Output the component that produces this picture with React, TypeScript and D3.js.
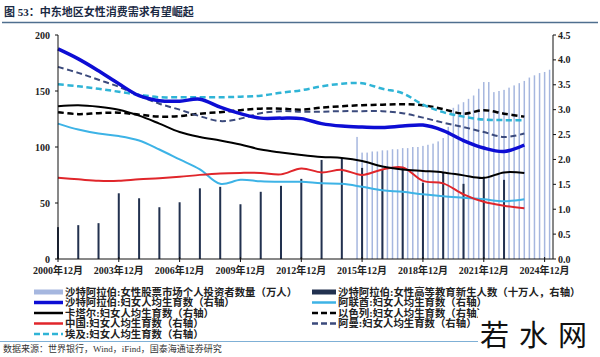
import React from 'react';
import * as d3 from 'd3';

// ---------- data ----------
const years = [2000, 2001, 2002, 2003, 2004, 2005, 2006, 2007, 2008, 2009, 2010, 2011,
  2012, 2013, 2014, 2015, 2016, 2017, 2018, 2019, 2020, 2021, 2022, 2023];

const saudiTFR = [4.22, 4.02, 3.78, 3.52, 3.28, 3.18, 3.17, 3.21, 3.05, 2.92, 2.83, 2.83,
  2.82, 2.72, 2.67, 2.65, 2.64, 2.67, 2.69, 2.58, 2.38, 2.23, 2.16, 2.29];
const qatarTFR = [3.07, 3.09, 3.06, 3.0, 2.88, 2.72, 2.55, 2.45, 2.38, 2.3, 2.2, 2.14,
  2.09, 2.05, 2.03, 1.97, 1.86, 1.8, 1.77, 1.74, 1.68, 1.63, 1.74, 1.73];
const chinaTFR = [1.63, 1.6, 1.57, 1.57, 1.6, 1.62, 1.65, 1.69, 1.72, 1.73, 1.73, 1.7,
  1.82, 1.74, 1.79, 1.69, 1.8, 1.84, 1.57, 1.52, 1.3, 1.15, 1.07, 1.02];
const egyptTFR = [3.51, 3.47, 3.42, 3.36, 3.3, 3.25, 3.25, 3.25, 3.25, 3.26, 3.28, 3.34,
  3.39, 3.47, 3.52, 3.53, 3.42, 3.33, 3.1, 2.95, 2.86, 2.8, 2.79, 2.79];
const uaeTFR = [2.72, 2.6, 2.52, 2.47, 2.38, 2.2, 2.0, 1.8, 1.51, 1.59, 1.56, 1.55,
  1.55, 1.52, 1.51, 1.45, 1.38, 1.35, 1.3, 1.26, 1.23, 1.2, 1.16, 1.2];
const israelTFR = [2.95, 2.91, 2.93, 2.94, 2.9, 2.86, 2.87, 2.92, 2.95, 2.99, 3.02, 3.02,
  3.0, 3.04, 3.07, 3.09, 3.1, 3.11, 3.09, 3.01, 2.92, 2.99, 2.92, 2.86];
const omanTFR = [3.86, 3.74, 3.6, 3.46, 3.28, 3.12, 3.0, 2.87, 2.77, 2.82, 2.93, 2.97,
  2.96, 2.96, 2.97, 2.97, 2.97, 2.93, 2.84, 2.74, 2.65, 2.55, 2.45, 2.52];

// Saudi female tertiary new entrants (100k, right axis)
const eduYears = [2000, 2001, 2002, 2003, 2004, 2005, 2006, 2007, 2008, 2009, 2010, 2011,
  2012, 2013, 2014, 2015, 2016, 2017, 2018, 2019, 2020, 2021, 2022];
const saudiEdu = [0.64, 0.68, 0.72, 1.32, 1.22, 1.04, 1.14, 1.42, 1.45, 1.10, 1.35, 1.47,
  1.61, 1.99, 2.01, 1.83, 1.79, 1.85, 1.53, 1.73, 1.51, 1.65, 1.59];

// Saudi female individual stock investors (10k, left axis), quarterly
const investorDates = ['2015-09', '2015-12',
  '2016-03', '2016-06', '2016-09', '2016-12',
  '2017-03', '2017-06', '2017-09', '2017-12',
  '2018-03', '2018-06', '2018-09', '2018-12',
  '2019-03', '2019-06', '2019-09', '2019-12',
  '2020-03', '2020-06', '2020-09', '2020-12',
  '2021-03', '2021-06', '2021-09', '2021-12',
  '2022-03', '2022-06', '2022-09', '2022-12',
  '2023-03', '2023-06', '2023-09', '2023-12',
  '2024-03', '2024-06', '2024-09', '2024-12', '2025-03'];
const saudiInvestors = [109, 95,
  95, 96, 96, 97,
  97, 98, 98, 99,
  99, 100, 100, 101,
  102, 103, 105, 108,
  118, 135, 138, 140,
  143, 146, 152, 158,
  158, 149, 150, 151,
  153, 155, 157, 159,
  162, 164, 166, 167, 169];

const xTickYears = [2000, 2003, 2006, 2009, 2012, 2015, 2018, 2021, 2024];
const xTickLabels = ['2000年12月', '2003年12月', '2006年12月', '2009年12月', '2012年12月',
  '2015年12月', '2018年12月', '2021年12月', '2024年12月'];
const leftTicks = [0, 50, 100, 150, 200];
const rightTicks = [0, 0.5, 1.0, 1.5, 2.0, 2.5, 3.0, 3.5, 4.0, 4.5];

const titleText = '图 53：中东地区女性消费需求有望崛起';
const sourceText = '数据来源：世界银行，Wind，iFind，国泰海通证券研究';

// ---------- styles ----------
const CJK = '"Liberation Serif", "Noto Sans CJK SC", serif';
const NUM = '"Liberation Serif", "Times New Roman", serif';

type LineSpec = { name: string; values: number[]; color: string; width: number; dash?: string };
const lines: LineSpec[] = [
  { name: '阿联酋:妇女人均生育数（右轴）', values: uaeTFR, color: '#3db3e6', width: 2 },
  { name: '中国:妇女人均生育数（右轴）', values: chinaTFR, color: '#e0262b', width: 2 },
  { name: '卡塔尔:妇女人均生育数（右轴）', values: qatarTFR, color: '#000000', width: 2 },
  { name: '以色列:妇女人均生育数（右轴）', values: israelTFR, color: '#000000', width: 2.5, dash: '6,3.5' },
  { name: '阿曼:妇女人均生育数（右轴）', values: omanTFR, color: '#3b4a7c', width: 2, dash: '6,3.5' },
  { name: '埃及:妇女人均生育数（右轴）', values: egyptTFR, color: '#2fb4d6', width: 2.5, dash: '6,3.5' },
  { name: '沙特阿拉伯:妇女人均生育数（右轴）', values: saudiTFR, color: '#0d0dd4', width: 3.5 },
];

const lightBarColor = '#a6b7df';
const darkBarColor = '#22314f';

export default function App() {
  const W = 600, H = 357;
  const x0 = 58, x1 = 553, yTop = 35, yBot = 259;

  const x = d3.scaleTime()
    .domain([new Date(2000, 11, 1), new Date(2025, 4, 1)])
    .range([x0, x1]);
  const yL = d3.scaleLinear().domain([0, 200]).range([yBot, yTop]);
  const yR = d3.scaleLinear().domain([0, 4.5]).range([yBot, yTop]);

  const yearDate = (y: number) => new Date(y, 11, 1);
  const parseYM = (s: string) => {
    const [yy, mm] = s.split('-').map(Number);
    return new Date(yy, mm - 1, 1);
  };

  const lineGen = d3.line<[Date, number]>()
    .x(d => x(d[0]))
    .y(d => yR(d[1]))
    .curve(d3.curveCatmullRom.alpha(0.5));

  const legendLeft = [
    { label: '沙特阿拉伯:女性股票市场个人投资者数量（万人）', color: lightBarColor, width: 5 },
    { label: '沙特阿拉伯:妇女人均生育数（右轴）', color: '#0d0dd4', width: 3.5 },
    { label: '卡塔尔:妇女人均生育数（右轴）', color: '#000000', width: 2.5 },
    { label: '中国:妇女人均生育数（右轴）', color: '#e0262b', width: 2.5 },
    { label: '埃及:妇女人均生育数（右轴）', color: '#2fb4d6', width: 2.5, dash: '6,3' },
  ];
  const legendRight = [
    { label: '沙特阿拉伯:女性高等教育新生人数（十万人，右轴）', color: darkBarColor, width: 5 },
    { label: '阿联酋:妇女人均生育数（右轴）', color: '#3db3e6', width: 2.5 },
    { label: '以色列:妇女人均生育数（右轴）', color: '#000000', width: 2.5, dash: '6,3' },
    { label: '阿曼:妇女人均生育数（右轴）', color: '#3b4a7c', width: 2.5, dash: '6,3' },
  ];
  const legendRows = [292, 302.5, 313, 323.5, 334];

  return (
    <svg width={W} height={H} style={{ position: 'absolute', left: 0, top: 0, background: '#fff' }}>
      <rect x={0} y={0} width={W} height={H} fill="#fff" />
      {/* title */}
      <text x={4} y={16} fontFamily={CJK} fontSize={11} fontWeight={700} fill="#1b2a44">{titleText}</text>
      <line x1={2} x2={598} y1={22.5} y2={22.5} stroke="#4f6f8f" strokeWidth={1.5} />

      {/* light bars */}
      {investorDates.map((d, i) => (
        <rect key={'lb' + i} x={x(parseYM(d)) - 0.75} width={1.5}
          y={yL(saudiInvestors[i])} height={yL(0) - yL(saudiInvestors[i])} fill={lightBarColor} />
      ))}
      {/* dark bars */}
      {eduYears.map((yy, i) => (
        <rect key={'db' + i} x={x(yearDate(yy)) - 1} width={2}
          y={yR(saudiEdu[i])} height={yR(0) - yR(saudiEdu[i])} fill={darkBarColor} />
      ))}

      {/* lines */}
      {lines.map(l => (
        <path key={l.name} d={lineGen(years.map((yy, i) => [yearDate(yy), l.values[i]] as [Date, number])) || ''}
          fill="none" stroke={l.color} strokeWidth={l.width} strokeDasharray={l.dash} />
      ))}

      {/* axes */}
      <line x1={x0} x2={x0} y1={yTop} y2={yBot} stroke="#111" strokeWidth={1} />
      <line x1={x1} x2={x1} y1={yTop} y2={yBot} stroke="#111" strokeWidth={1} />
      <line x1={x0} x2={x1} y1={yBot} y2={yBot} stroke="#111" strokeWidth={1} />
      {leftTicks.map(t => (
        <g key={'lt' + t}>
          <line x1={x0 - 3} x2={x0} y1={yL(t)} y2={yL(t)} stroke="#111" />
          <text x={x0 - 8} y={yL(t) + 3.5} textAnchor="end" fontFamily={NUM} fontSize={10} fontWeight={700} fill="#222">{t}</text>
        </g>
      ))}
      {rightTicks.map(t => (
        <g key={'rt' + t}>
          <line x1={x1} x2={x1 + 3} y1={yR(t)} y2={yR(t)} stroke="#111" />
          <text x={x1 + 5} y={yR(t) + 3.5} textAnchor="start" fontFamily={NUM} fontSize={10} fontWeight={700} fill="#222">{t.toFixed(1)}</text>
        </g>
      ))}
      {xTickYears.map((yy, i) => (
        <g key={'xt' + yy}>
          <line x1={x(yearDate(yy))} x2={x(yearDate(yy))} y1={yBot - 2} y2={yBot + 3} stroke="#111" />
          <text x={x(yearDate(yy))} y={274} textAnchor="middle" fontFamily={CJK} fontSize={10} fontWeight={700} fill="#222">{xTickLabels[i]}</text>
        </g>
      ))}

      {/* legend */}
      {legendLeft.map((it, i) => (
        <g key={'ll' + i}>
          <line x1={34} x2={63} y1={legendRows[i]} y2={legendRows[i]} stroke={it.color} strokeWidth={it.width} strokeDasharray={it.dash} />
          <text x={65} y={legendRows[i] + 3.5} fontFamily={CJK} fontSize={10.4} fontWeight={700} fill="#222">{it.label}</text>
        </g>
      ))}
      {legendRight.map((it, i) => (
        <g key={'lr' + i}>
          <line x1={312} x2={336} y1={legendRows[i]} y2={legendRows[i]} stroke={it.color} strokeWidth={it.width} strokeDasharray={it.dash} />
          <text x={338} y={legendRows[i] + 3.5} fontFamily={CJK} fontSize={10.4} fontWeight={700} fill="#222">{it.label}</text>
        </g>
      ))}

      {/* source */}
      <line x1={0} x2={478} y1={341.5} y2={341.5} stroke="#7fb0d6" strokeWidth={1} />
      <text x={3} y={352} fontFamily={CJK} fontSize={9} fill="#333">{sourceText}</text>

      {/* watermark */}
      <rect x={478} y={310} width={122} height={47} fill="#fff" />
      <text x={480} y={346} fontFamily='"Noto Sans CJK SC", sans-serif' fontSize={29} fill="#111" letterSpacing={10}>若水网</text>
    </svg>
  );
}
